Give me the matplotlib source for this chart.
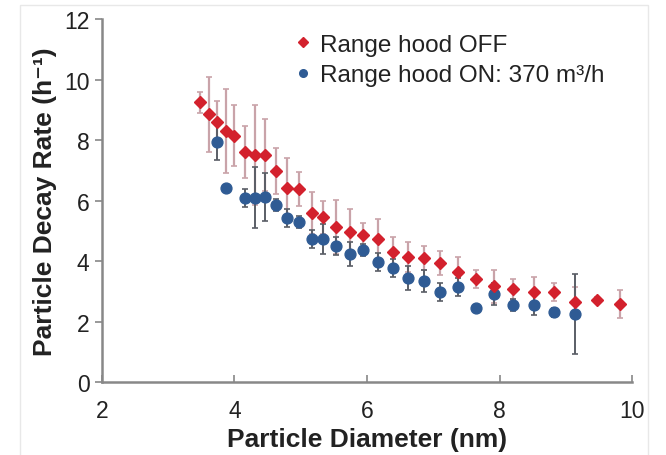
import matplotlib
matplotlib.use("Agg")
import matplotlib.pyplot as plt
from matplotlib.lines import Line2D
from matplotlib.patches import Rectangle

plt.rcParams['font.family'] = ['Liberation Sans', 'DejaVu Sans']

# Range hood OFF (red diamonds)
off_x = [3.48, 3.62, 3.74, 3.87, 3.99, 4.16, 4.31, 4.46, 4.63, 4.79, 4.97, 5.17, 5.34,
         5.53, 5.74, 5.94, 6.17, 6.39, 6.62, 6.86, 7.10, 7.37, 7.65, 7.92, 8.20, 8.52,
         8.82, 9.14, 9.47, 9.82]
off_y = [9.25, 8.85, 8.6, 8.3, 8.15, 7.6, 7.5, 7.5, 6.98, 6.4, 6.38, 5.59, 5.45,
         5.12, 4.96, 4.86, 4.73, 4.30, 4.13, 4.10, 3.93, 3.64, 3.41, 3.17, 3.07, 2.98,
         2.98, 2.64, 2.71, 2.58]
off_err = [0.35, 1.25, 0.7, 1.4, 1.0, 0.85, 1.65, 1.2, 0.75, 1.0, 0.55, 0.7, 0.55,
           0.9, 0.75, 0.4, 0.65, 0.5, 0.5, 0.4, 0.4, 0.5, 0.3, 0.55, 0.35, 0.5,
           0.3, 0.5, 0.1, 0.45]

# Range hood ON: 370 m3/h (blue circles)
on_x = [3.74, 3.87, 4.16, 4.31, 4.46, 4.63, 4.79, 4.97, 5.17, 5.34, 5.53, 5.74, 5.94,
        6.17, 6.39, 6.62, 6.86, 7.10, 7.37, 7.65, 7.92, 8.20, 8.52, 8.82, 9.14]
on_y = [7.95, 6.42, 6.08, 6.1, 6.12, 5.85, 5.42, 5.3, 4.74, 4.74, 4.5, 4.23, 4.38,
        3.98, 3.78, 3.43, 3.34, 2.98, 3.14, 2.45, 2.91, 2.55, 2.55, 2.3, 2.25]
on_err = [0.6, 0.1, 0.3, 1.0, 0.8, 0.2, 0.3, 0.2, 0.3, 0.5, 0.3, 0.4, 0.2,
          0.3, 0.3, 0.4, 0.35, 0.3, 0.3, 0.1, 0.35, 0.2, 0.35, 0.15, 1.32]

x_ticks = [2, 4, 6, 8, 10]
y_ticks = [0, 2, 4, 6, 8, 10, 12]

red = '#d3212d'
blue = '#2f5b94'

fig = plt.figure(figsize=(6.66, 4.56), dpi=100)
fig.patches.append(Rectangle((20 / 666, -0.01), 628 / 666, 0.997, transform=fig.transFigure,
                             fill=False, edgecolor='#e8e8e8', linewidth=1.0))
ax = fig.add_axes([0.153, 0.160, 0.796, 0.796])

ax.errorbar(off_x, off_y, yerr=off_err, fmt='none', ecolor='#c9a3a9',
            elinewidth=1.6, capsize=2.5, capthick=1.2, zorder=1)
ax.errorbar(on_x, on_y, yerr=on_err, fmt='none', ecolor='#5a5e66',
            elinewidth=1.4, capsize=2.5, capthick=1.2, zorder=1)
ax.plot(on_x, on_y, linestyle='none', marker='o', markersize=7.8,
        color=blue, markeredgecolor=blue, zorder=3)
ax.plot(off_x, off_y, linestyle='none', marker='D', markersize=6.4,
        color=red, markeredgecolor=red, zorder=4)

ax.set_xlim(2, 10)
ax.set_ylim(0, 12)
ax.set_xticks(x_ticks)
ax.set_yticks(y_ticks)
ax.tick_params(axis='x', direction='in', length=5, width=1.2, color='#888888',
               labelsize=16.5, pad=12, labelcolor='#222222')
ax.tick_params(axis='y', direction='out', length=5, width=1.2, color='#888888',
               labelsize=16.5, pad=4, labelcolor='#222222')
for s in ['top', 'right']:
    ax.spines[s].set_visible(False)
for s in ['left', 'bottom']:
    ax.spines[s].set_color('#888888')
    ax.spines[s].set_linewidth(1.8)

ax.set_xlabel('Particle Diameter (nm)', fontsize=19, fontweight='bold', labelpad=4,
              color='#222222')
ax.set_ylabel('Particle Decay Rate (h\u207b\u00b9)', fontsize=19,
              fontweight='bold', labelpad=5, color='#222222')

handles = [Line2D([], [], linestyle='none', marker='D', markersize=5, color=red),
           Line2D([], [], linestyle='none', marker='o', markersize=5.5, color=blue)]
ax.legend(handles, ['Range hood OFF', 'Range hood ON: 370 m\u00b3/h'],
          loc='upper left', bbox_to_anchor=(0.358, 0.96), frameon=False,
          fontsize=17.5, handletextpad=0.25, handlelength=0.9, labelspacing=0.35,
          borderaxespad=0, borderpad=0, labelcolor='#222222')

fig.savefig('out.png', dpi=100)
